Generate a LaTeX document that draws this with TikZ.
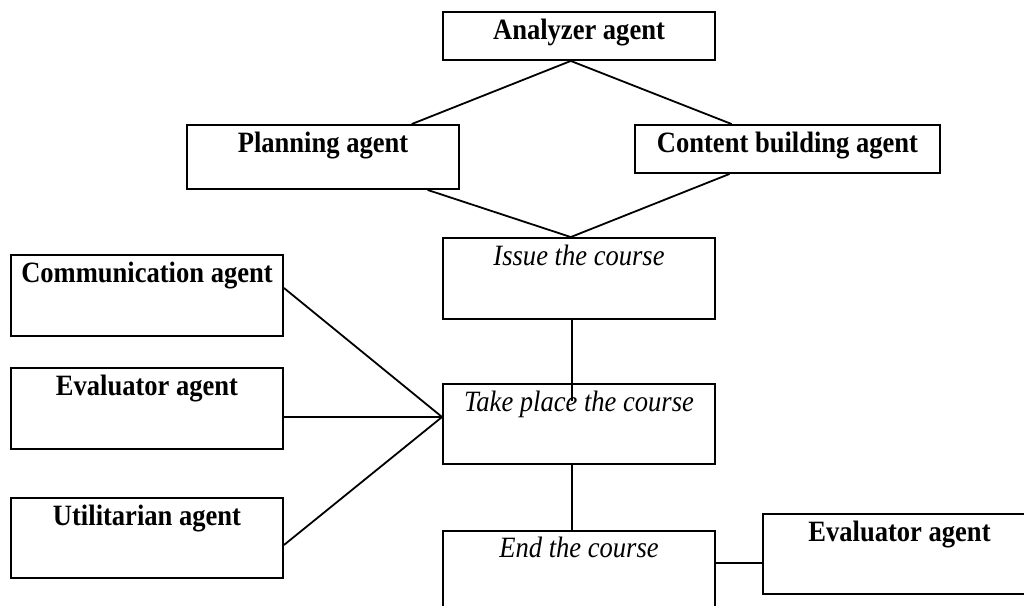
\documentclass[tikz,border=0pt]{standalone}
\usepackage{fontspec}
\setmainfont{Liberation Serif}[FakeStretch=0.9]
\usetikzlibrary{calc}
\tikzset{
  box/.style={draw=black, line width=1.9pt, fill=white, inner sep=0pt, rectangle},
  bt/.style={font=\fontsize{29.5}{30}\selectfont\bfseries, anchor=base, inner sep=0pt},
  it/.style={font=\fontsize{29.5}{30}\selectfont\itshape, anchor=base, inner sep=0pt},
  conn/.style={draw=black, line width=1.8pt}
}
\begin{document}
\begin{tikzpicture}[x=1pt,y=-1pt]
\useasboundingbox (0,0) rectangle (1024,605);
\fill[white] (0,0) rectangle (1024,605);
\clip (0,0) rectangle (1024,605);
% boxes
\node[box, minimum width=272pt, minimum height=48pt] (ana) at (579,36) {};
\node[box, minimum width=272pt, minimum height=64pt] (pla) at (323,157) {};
\node[box, minimum width=305pt, minimum height=48pt] (con) at (787.5,149) {};
\node[box, minimum width=272pt, minimum height=81pt] (iss) at (579,278.5) {};
\node[box, minimum width=272pt, minimum height=80pt] (tak) at (579,424) {};
\node[box, minimum width=272pt, minimum height=81pt] (fin) at (579,571.5) {};
\node[box, minimum width=272pt, minimum height=81pt] (com) at (147,295.5) {};
\node[box, minimum width=272pt, minimum height=81pt] (evl) at (147,408.5) {};
\node[box, minimum width=272pt, minimum height=80pt] (uti) at (147,538) {};
\node[box, minimum width=273pt, minimum height=80pt] (evr) at (899.5,554) {};
% connection points
\coordinate (anaS) at ($(ana.south west)!0.47!(ana.south east)$);
\coordinate (plaN) at ($(pla.north west)!0.824!(pla.north east)$);
\coordinate (conN) at ($(con.north west)!0.318!(con.north east)$);
\coordinate (plaS) at ($(pla.south west)!0.882!(pla.south east)$);
\coordinate (conS) at ($(con.south west)!0.311!(con.south east)$);
\coordinate (issN) at ($(iss.north west)!0.47!(iss.north east)$);
\coordinate (issS) at ($(iss.south west)!0.474!(iss.south east)$);
\coordinate (issEnd) at ($(issS)+(0,81)$);
\coordinate (takS) at ($(tak.south west)!0.474!(tak.south east)$);
\coordinate (finN) at ($(fin.north west)!0.474!(fin.north east)$);
\coordinate (takW) at ($(tak.west)+(0,-7)$);
\coordinate (comE) at ($(com.east)+(0,-7.5)$);
\coordinate (evlE) at ($(evl.east)+(0,8.5)$);
\coordinate (utiE) at ($(uti.east)+(0,7)$);
\coordinate (finE) at ($(fin.east)+(0,-8.5)$);
% connectors
\draw[conn] (anaS) -- (plaN);
\draw[conn] (anaS) -- (conN);
\draw[conn] (plaS) -- (issN);
\draw[conn] (conS) -- (issN);
\draw[conn] (issS) -- (issEnd);
\draw[conn] (takS) -- (finN);
\draw[conn] (comE) -- (takW);
\draw[conn] (evlE) -- (takW);
\draw[conn] (utiE) -- (takW);
\draw[conn] (finE) -- (finE -| evr.west);
% labels
\node[bt] (anaT) at (579,39) {Analyzer agent};
\node[bt] (plaT) at (323,152) {Planning agent};
\node[bt] (conT) at (787.5,152) {Content building agent};
\node[it] (issT) at (579,265) {Issue the course};
\node[it] (takT) at (579,411) {Take place the course};
\node[it] (finT) at (579,557) {End the course};
\node[bt] (comT) at (147,282) {Communication agent};
\node[bt] (evlT) at (147,395) {Evaluator agent};
\node[bt] (utiT) at (147,525) {Utilitarian agent};
\node[bt] (evrT) at (899.5,541) {Evaluator agent};
\end{tikzpicture}
\end{document}
